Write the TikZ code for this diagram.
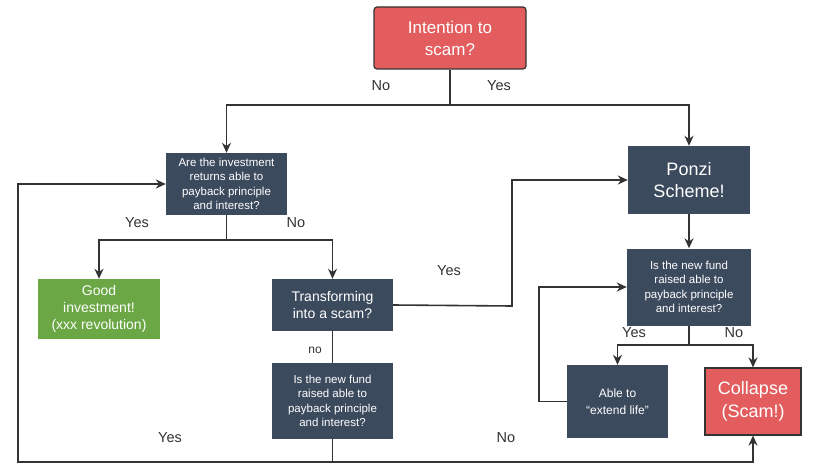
\documentclass[tikz,border=0pt]{standalone}
\usepackage{fontspec}
\setmainfont{Liberation Sans}
\usetikzlibrary{arrows.meta,calc}

\definecolor{scamred}{HTML}{E35D5F}
\definecolor{slate}{HTML}{3C4A5E}
\definecolor{goodgreen}{HTML}{6BA745}
\definecolor{wire}{HTML}{333333}

\begin{document}
\begin{tikzpicture}[x=1pt,y=-1pt,
		box/.style={
			rectangle,text=white,align=center,inner sep=2pt
		},
		question/.style={
			box,fill=slate,font=\fontsize{11.5}{14.5}\selectfont
		},
		bigbox/.style={
			box,fill=slate,font=\fontsize{18}{22}\selectfont
		},
		arr/.style={
			draw=wire,line width=1.6pt,-{Stealth[length=10pt,width=9pt]}
		},
		wireline/.style={
			draw=wire,line width=1.6pt
		},
		answer/.style={
			font=\fontsize{14.5}{16}\selectfont,text=wire
		}
		]
		\useasboundingbox (0,0) rectangle (818,468);
		% top decision
		\node[box,fill=scamred,draw=wire,line width=1.2pt,rounded corners=3pt,
			minimum width=152pt,minimum height=62pt,
			font=\fontsize{17}{22}\selectfont] (intent) at (450,38) {Intention to\\scam?};
		% left branch
		\node[question,minimum width=121pt,minimum height=62pt] (q1) at (226.5,184)
			{Are the investment\\returns able to\\payback principle\\and interest?};
		\node[box,fill=goodgreen,minimum width=122pt,minimum height=60pt,
			font=\fontsize{14}{17}\selectfont] (good) at (99,309)
			{Good\\investment!\\(xxx revolution)};
		\node[box,fill=slate,minimum width=121pt,minimum height=52pt,
			font=\fontsize{14}{17}\selectfont] (trans) at (332.5,305)
			{Transforming\\into a scam?};
		\node[question,minimum width=121pt,minimum height=76pt] (q2) at (332.5,401)
			{Is the new fund\\raised able to\\payback principle\\and interest?};
		% right branch
		\node[bigbox,minimum width=122pt,minimum height=68pt] (ponzi) at (689,180)
			{Ponzi\\Scheme!};
		\node[question,minimum width=124pt,minimum height=77pt] (q3) at (689,287)
			{Is the new fund\\raised able to\\payback principle\\and interest?};
		\node[box,fill=slate,minimum width=101pt,minimum height=73pt,
			font=\fontsize{12}{17}\selectfont] (able) at (617.5,401.5)
			{Able to\\``extend life''};
		\node[box,fill=scamred,draw=wire,line width=1.2pt,minimum width=96pt,
			minimum height=67pt,font=\fontsize{18}{23}\selectfont] (collapse) at (753,401.5)
			{Collapse\\(Scam!)};

		% split points
		\coordinate (s1) at (450,105);
		\coordinate (s2) at (226.5,240);
		\coordinate (s3) at (689,345);
		\coordinate (bend) at (512,306);
		\coordinate (back) at (539,401.5);
		\coordinate (loopL) at (18,462);
		\coordinate (loopR) at (753,462);

		\draw[wireline] (intent.south) -- (s1);
		\draw[arr] (s1) -| (q1.north);
		\draw[arr] (s1) -| (ponzi.north);
		\draw[wireline] (q1.south) -- (s2);
		\draw[arr] (s2) -| (good.north);
		\draw[arr] (s2) -| (trans.north);
		\draw[arr] (trans.east) -- (bend) |- (ponzi.west);
		\draw[wireline] (trans.south) -- (q2.north);
		\draw[arr] (q2.south) |- (loopL) |- (q1.west);
		\draw[arr] (q2.south) |- (loopR) -- (collapse.south);
		\draw[arr] (ponzi.south) -- (q3.north);
		\draw[wireline] (q3.south) -- (s3);
		\draw[arr] (s3) -| (able.north);
		\draw[arr] (s3) -| (collapse.north);
		\draw[arr] (able.west) -- (back) |- (q3.west);

		% answers
		\node[answer] (no1) at (381,86) {No};
		\node[answer] (yes1) at (499,86) {Yes};
		\node[answer] (yes2) at (137,223) {Yes};
		\node[answer] (no2) at (296,223) {No};
		\node[answer] (yes3) at (449,271) {Yes};
		\node[answer,font=\fontsize{12}{14}\selectfont] (no3) at (315,350) {no};
		\node[answer] (yes4) at (170,438) {Yes};
		\node[answer] (no4) at (506,438) {No};
		\node[answer] (yes5) at (634,333) {Yes};
		\node[answer] (no5) at (734,333) {No};
\end{tikzpicture}
\end{document}
